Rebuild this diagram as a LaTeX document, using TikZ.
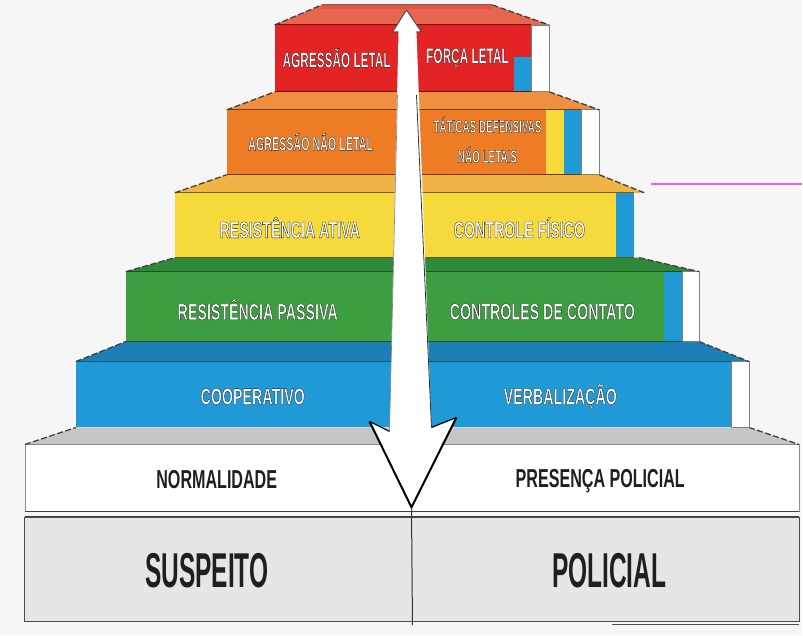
\documentclass[tikz,border=0pt]{standalone}
\usepackage{fontspec}
\setmainfont{Liberation Sans}
\newfontface\tierfont[FakeStretch=0.62]{Liberation Sans Bold}
\newfontface\smallfont[FakeStretch=0.55]{Liberation Sans Bold}
\newfontface\midfont[FakeStretch=0.62]{Liberation Sans Bold}
\newfontface\bigfont[FakeStretch=0.5]{Liberation Sans Bold}
\newcommand\outl[1]{\special{pdf:literal direct 0.1 G 0.3 w 2 Tr}#1\special{pdf:literal direct 0 Tr}}
\definecolor{bg}{HTML}{F6F6F6}
\definecolor{redF}{HTML}{E42424}
\definecolor{redT}{HTML}{E9664E}
\definecolor{oraF}{HTML}{EE7C24}
\definecolor{oraT}{HTML}{EE9040}
\definecolor{yelF}{HTML}{F6DA3C}
\definecolor{yelT}{HTML}{F0B346}
\definecolor{grnF}{HTML}{3C9E40}
\definecolor{grnT}{HTML}{2E8A3A}
\definecolor{bluF}{HTML}{1F9AD6}
\definecolor{bluT}{HTML}{1C80B6}
\definecolor{gryT}{HTML}{C6C6C6}
\definecolor{boxF}{HTML}{E6E6E6}
\definecolor{magL}{HTML}{EE5CEE}
\tikzset{
  edge/.style={draw=black!75, line width=1.3pt, dash pattern=on 6pt off 2.5pt},
  strip/.style={fill=white, draw=black!50, line width=0.8pt},
  lbl/.style={text=white, inner sep=0pt, font=\tierfont\fontsize{23}{23}\selectfont},
  lblsm/.style={text=white, inner sep=0pt, align=center, font=\smallfont\fontsize{19.5}{19.5}\selectfont},
  lbltop/.style={text=white, inner sep=0pt, font=\smallfont\fontsize{21.5}{21.5}\selectfont},
  lbltac/.style={text=white, inner sep=0pt, align=center, font=\smallfont\fontsize{18}{30}\selectfont},
  lblbase/.style={text=black!88, inner sep=0pt, font=\midfont\fontsize{26}{26}\selectfont},
  lblbig/.style={text=black!88, inner sep=0pt, font=\bigfont\fontsize{49}{49}\selectfont},
}
\begin{document}
\begin{tikzpicture}[x=1pt,y=-1pt]
\fill[bg] (0,0) rectangle (803,636);

% bottom box
\fill[boxF] (25,518) rectangle (800,622);
\draw[black!70, line width=1pt] (25,518) rectangle (800,622);
\draw[black!70, line width=1pt] (613,625) -- (800,625);

% white tier (NORMALIDADE)
\fill[gryT] (25,445) -- (76,428) -- (750,428) -- (800,445) -- cycle;
\fill[white] (25,445) rectangle (800,512);
\draw[black!45, line width=0.8pt] (25,445) rectangle (800,512);
\draw[edge] (25,445) -- (76,428);
\draw[edge] (750,428) -- (800,445);
\draw[black!75, line width=1.3pt] (25,512) -- (800,512);
\draw[black!75, line width=1.3pt] (25,517) -- (800,517);

% blue tier
\fill[bluT] (76,362) -- (126,342) -- (700,342) -- (750,362) -- cycle;
\fill[bluF] (76,362) rectangle (732,428);
\draw[bluF!55!black, line width=1pt] (76,362) -- (732,362);
\draw[strip] (732,362) rectangle (750,428);
\draw[edge] (76,362) -- (126,342);
\draw[edge] (700,342) -- (750,362);

% green tier
\fill[grnT] (126,272) -- (175,258) -- (640,258) -- (700,272) -- cycle;
\fill[grnF] (126,272) rectangle (665,342);
\fill[bluF] (665,272) rectangle (683,342);
\draw[grnF!50!black, line width=1pt] (126,272) -- (683,272);
\draw[grnF!50!black, line width=1.2pt] (126,342) -- (683,342);
\draw[strip] (683,272) rectangle (700,342);
\draw[edge] (126,272) -- (175,258);
\draw[edge] (640,258) -- (700,272);

% yellow tier
\fill[yelT] (175,193) -- (227,175) -- (600,175) -- (645,193) -- cycle;
\fill[yelF] (175,193) rectangle (617,258);
\fill[bluF] (617,193) rectangle (635,258);
\draw[yelF!45!black, line width=1pt] (175,193) -- (635,193);
\draw[yelF!40!black, line width=1.2pt] (175,258) -- (635,258);
\draw[edge] (175,193) -- (227,175);
\draw[edge] (600,175) -- (645,193);

% orange tier
\fill[oraT] (227,110) -- (275,92) -- (550,92) -- (600,110) -- cycle;
\fill[oraF] (227,110) rectangle (547,175);
\fill[yelF] (547,110) rectangle (565,175);
\fill[bluF] (565,110) rectangle (582,175);
\draw[oraF!50!black, line width=1pt] (227,110) -- (582,110);
\draw[oraF!45!black, line width=1.2pt] (227,175) -- (582,175);
\draw[strip] (582,110) rectangle (600,175);
\draw[edge] (227,110) -- (275,92);
\draw[edge] (550,92) -- (600,110);

% red tier
\fill[redT] (275,25) -- (322,5) -- (493,5) -- (550,25) -- cycle;
\fill[redF!30!redT] (322,5) rectangle (493,9);
\fill[redF] (275,25) rectangle (532,92);
\fill[bluF] (515,57) rectangle (532,92);
\draw[redF!50!black, line width=1pt] (275,25) -- (532,25);
\draw[redF!45!black, line width=1.2pt] (275,92) -- (532,92);
\draw[strip] (532,25) rectangle (550,92);
\draw[edge] (275,25) -- (322,5);
\draw[edge] (493,5) -- (550,25);
\draw[black!60, line width=1pt] (322,5) -- (493,5);

% double-headed arrow
\coordinate (tip) at (407,10);
\coordinate (apex) at (412,508);
\coordinate (lb) at (370,422);
\coordinate (rb) at (457,418);
\fill[white] (tip) -- (422,32) -- (417,32) -- (432,428) -- (rb) -- (apex) -- (lb)
  -- (390,432) -- (399,32) -- (393,32) -- cycle;
\draw[black!70, line width=1pt] (tip) -- (393,32) -- (399,32);
\draw[black!70, line width=1pt] (tip) -- (422,32) -- (417,32);
\draw[black!80, line width=0.8pt] (417,95) -- (432,428);
\draw[black!50, line width=0.6pt] (398,95) -- (390,432);
\draw[black, line width=2pt] (lb) -- (apex) -- (rb);
\draw[black, line width=1.2pt] (lb) -- (390,432);
\draw[black, line width=1.2pt] (rb) -- (432,428);
\draw[black!80, line width=1pt] (apex) -- (413,626);

% magenta line
\draw[magL, line width=2pt] (652,184) -- (803,184);

% labels
\node[lbltop] (agl) at (337,58) {\outl{AGRESSÃO LETAL}};
\node[lbltop] (fl) at (468,58) {\outl{FORÇA LETAL}};
\node[lblsm] (agnl) at (311,142) {\outl{AGRESSÃO NÃO LETAL}};
\node[lbltac] (tdnl) at (488,140) {\outl{TÁTICAS DEFENSIVAS}\\\outl{NÃO LETAIS}};
\node[lbl] (ra) at (290,228) {\outl{RESISTÊNCIA ATIVA}};
\node[lbl] (cf) at (520,228) {\outl{CONTROLE FÍSICO}};
\node[lbl] (rp) at (258,310) {\outl{RESISTÊNCIA PASSIVA}};
\node[lbl] (cc) at (543,312) {\outl{CONTROLES DE CONTATO}};
\node[lbl] (coop) at (253,397) {\outl{COOPERATIVO}};
\node[lbl] (verb) at (561,397) {\outl{VERBALIZAÇÃO}};
\node[lblbase] (norm) at (217,480) {NORMALIDADE};
\node[lblbase] (pp) at (601,482) {PRESENÇA POLICIAL};
\node[lblbig] (susp) at (207,571) {SUSPEITO};
\node[lblbig] (pol) at (610,571) {POLICIAL};
\end{tikzpicture}
\end{document}
